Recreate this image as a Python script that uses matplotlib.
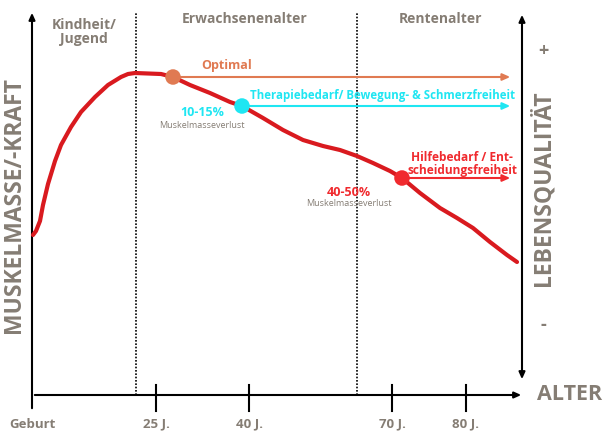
import matplotlib
matplotlib.use("Agg")
import matplotlib.pyplot as plt

# ---- data (coordinates: x = horizontal position from birth, y = height above age axis) ----
curve_x = [1, 4, 8, 11, 16, 23, 29, 39, 49, 63, 76, 89, 96, 103, 129, 141, 158, 178, 198, 210,
           231, 251, 271, 291, 308, 325, 341, 358, 370, 388, 408, 425, 441, 458, 475, 485]
curve_y = [160, 164, 174, 190, 211, 234, 250, 268, 283, 298, 310, 318, 321, 322, 321, 318, 310, 302, 293, 289,
           277, 265, 255, 249, 245, 239, 232, 224, 217, 202, 187, 177, 167, 153, 140, 133]

tick_labels = ["Geburt", "25 J.", "40 J.", "70 J.", "80 J."]
tick_pos = [0, 124, 217, 360, 434]

phase_labels = ["Kindheit/\nJugend", "Erwachsenenalter", "Rentenalter"]
phase_pos = [52, 213, 409]
phase_bounds = [104, 325]

marker_names = ["Optimal", "Therapiebedarf/ Bewegung- & Schmerzfreiheit", "Hilfebedarf / Ent-\nscheidungsfreiheit"]
marker_x = [141, 210, 370]
marker_y = [318, 289, 217]
marker_colors = ["#E07A52", "#1FE6F2", "#F02A2E"]
loss_labels = ["10-15%", "40-50%"]

GREY = "#857D74"
FONT = ["Open Sans", "DejaVu Sans"]
plt.rcParams['font.family'] = FONT

fig = plt.figure(figsize=(6.05, 4.37), dpi=100)
ax = fig.add_axes([0, 0, 1, 1])
ax.set_xlim(-32, 573)
ax.set_ylim(-42, 395)
ax.axis("off")

# axes
ax.annotate("", xy=(0, 385), xytext=(0, -16),
            arrowprops=dict(arrowstyle="-|>,head_length=0.4,head_width=0.18", color="black", lw=1.5))
ax.annotate("", xy=(492, 0), xytext=(0, 0),
            arrowprops=dict(arrowstyle="-|>,head_length=0.4,head_width=0.18", color="black", lw=1.5))
ax.annotate("", xy=(490, 383), xytext=(490, 13),
            arrowprops=dict(arrowstyle="<|-|>,head_length=0.4,head_width=0.18", color="black", lw=1.5))
for p in tick_pos[1:]:
    ax.plot([p, p], [-16, 10], color="black", lw=1.5)
for p, lab in zip(tick_pos, tick_labels):
    ax.text(p, -29, lab, ha="center", va="center", fontsize=9.5, fontweight="bold", color=GREY)

# phase separators
for b in phase_bounds:
    ax.plot([b, b], [0, 383], color="black", lw=1.2, ls=(0, (1, 1)))
for p, lab in zip(phase_pos, phase_labels):
    ax.text(p, 376 if "\n" not in lab else 377, lab, ha="center", va="top" if "\n" in lab else "center",
            fontsize=10, fontweight="bold", color=GREY, linespacing=1.0)

# curve
ax.plot(curve_x, curve_y, color="#D91A1F", lw=3, solid_capstyle="round",
        solid_joinstyle="round", zorder=3)

# arrows from markers
for mx, my, c in zip(marker_x, marker_y, marker_colors):
    ax.annotate("", xy=(481, my), xytext=(mx, my),
                arrowprops=dict(arrowstyle="-|>,head_length=0.45,head_width=0.2", color=c, lw=1.5), zorder=2)
    ax.scatter([mx], [my], s=125, color=c, zorder=4, edgecolors="none")

ax.text(195, 329, marker_names[0], ha="center", va="center", fontsize=9, fontweight="bold", color=marker_colors[0])
ax.text(218, 300, marker_names[1], ha="left", va="center", fontsize=8.3, fontweight="bold", color=marker_colors[1])
ax.text(430, 231, marker_names[2], ha="center", va="center", fontsize=8.6, fontweight="bold",
        color=marker_colors[2], linespacing=1.0)

ax.text(170, 282, loss_labels[0], ha="center", va="center", fontsize=9, fontweight="bold", color=marker_colors[1])
ax.text(170, 270, "Muskelmasseverlust", ha="center", va="center", fontsize=6.5, color=GREY)
ax.text(317, 203, loss_labels[1], ha="center", va="center", fontsize=9, fontweight="bold", color=marker_colors[2])
ax.text(317, 192, "Muskelmasseverlust", ha="center", va="center", fontsize=6.5, color=GREY)

# axis titles
ax.text(-18, 190, "MUSKELMASSE/-KRAFT", rotation=90, ha="center", va="center",
        fontsize=16.5, fontweight="bold", color=GREY)
ax.text(511, 207, "LEBENSQUALITÄT", rotation=90, ha="center", va="center",
        fontsize=16.5, fontweight="bold", color=GREY)
ax.text(511, 344, "+", ha="center", va="center", fontsize=13, fontweight="bold", color=GREY)
ax.text(511, 70, "-", ha="center", va="center", fontsize=13, fontweight="bold", color=GREY)
ax.text(538, 0, "ALTER", ha="center", va="center", fontsize=15.5, fontweight="bold", color=GREY)

fig.savefig("out.png", dpi=100)
